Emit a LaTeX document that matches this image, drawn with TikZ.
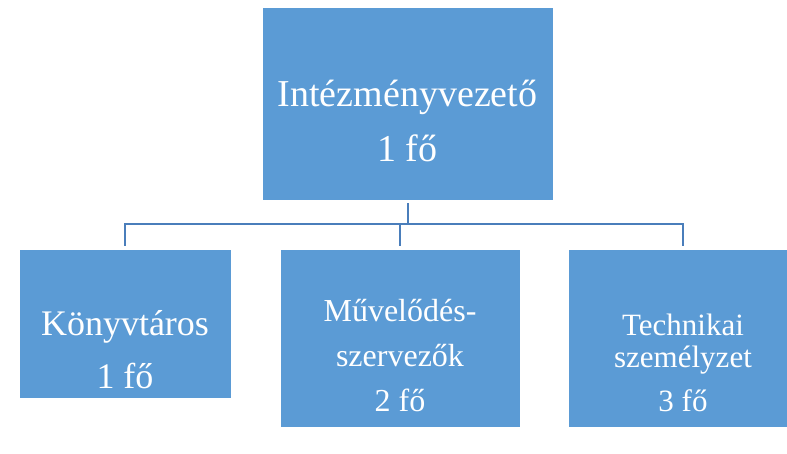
\documentclass[tikz,border=0pt]{standalone}
\usepackage{fontspec}
\setmainfont{Liberation Serif}
\definecolor{boxblue}{HTML}{5B9BD5}
\definecolor{linkblue}{HTML}{4A7EBB}
\tikzset{
  unit/.style={fill=boxblue, draw=white, line width=0.6pt, inner sep=0pt},
  unittext/.style={text=white, align=center, inner sep=0pt},
  link/.style={draw=linkblue, line width=2pt}
}
\begin{document}
\begin{tikzpicture}[x=1pt,y=-1pt]
  \useasboundingbox (0,0) rectangle (787,453);
  % boxes
  \node[unit, minimum width=291pt, minimum height=193pt] (head) at (407.5,103.5) {};
  \node[unit, minimum width=212pt, minimum height=149pt] (lib) at (125,323.5) {};
  \node[unit, minimum width=240pt, minimum height=178pt] (culture) at (400,338) {};
  \node[unit, minimum width=230pt, minimum height=178pt] (tech) at (683,338) {};
  % texts
  \node[unittext, font=\fontsize{38}{55}\selectfont] (headtext) at (407.5,121.2) {Intézményvezető\\1 fő};
  \node[unittext, font=\fontsize{36}{53}\selectfont] (libtext) at (125,349.3) {Könyvtáros\\1 fő};
  \node[unittext, font=\fontsize{32}{45}\selectfont] (culturetext) at (400,355.8) {Művelődés-\\szervezők\hspace*{8pt}\\2 fő};
  \node[unittext, font=\fontsize{31}{32}\selectfont] (techtext) at (683,362.7) {Technikai\\személyzet\\[12pt]3 fő};
  % connectors
  \coordinate (fork) at (407.5,224);
  \draw[link, shorten <=3pt] (head) -- (fork);
  \foreach \unitname in {lib,culture,tech}
    \draw[link, shorten >=3pt] (fork) -| (\unitname);
\end{tikzpicture}
\end{document}
